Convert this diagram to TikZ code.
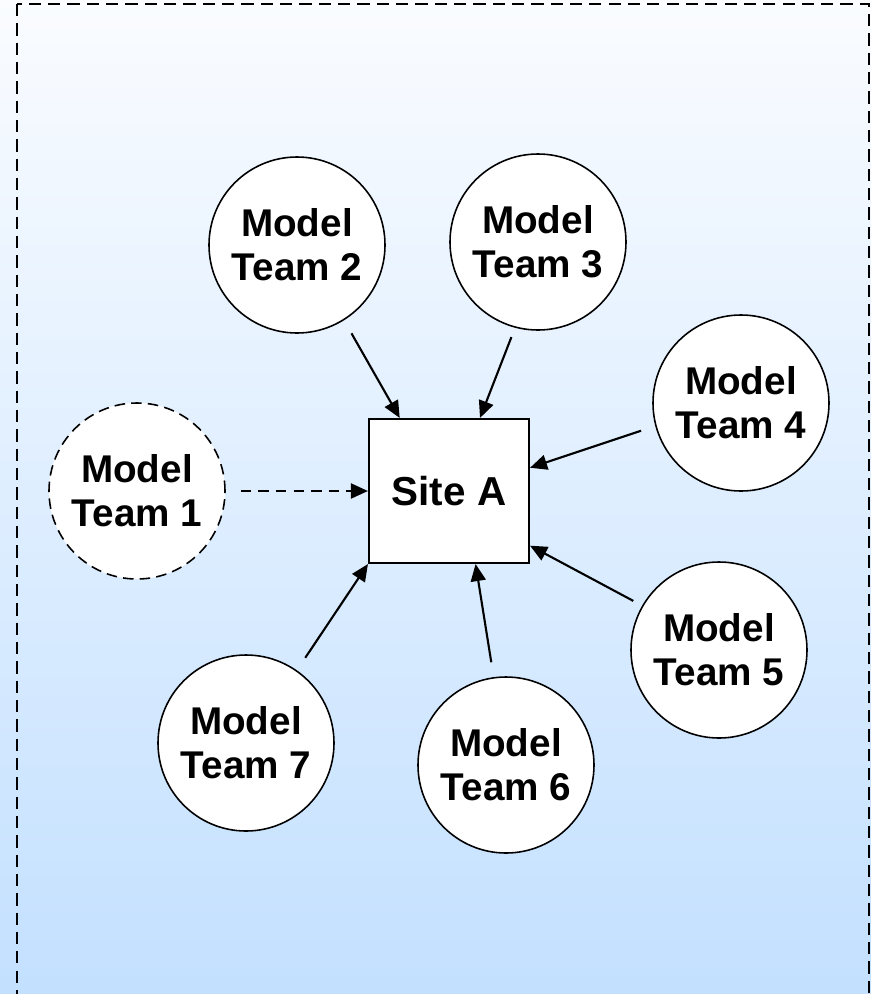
\documentclass[tikz,border=0pt]{standalone}
\usepackage{fontspec}
\setmainfont{Liberation Sans}
\usepackage{xcolor}
\usetikzlibrary{arrows.meta}

\definecolor{bgtop}{RGB}{250,252,255}
\definecolor{bgbottom}{RGB}{195,224,255}

\begin{document}
\begin{tikzpicture}[
    team/.style={draw, circle, fill=white, line width=0.9pt, minimum size=3.52cm, inner sep=0pt, align=center, font=\fontsize{22}{25}\selectfont\bfseries},
    site/.style={draw, rectangle, fill=white, line width=1.2pt, minimum width=3.2cm, minimum height=2.88cm, font=\fontsize{23}{26}\selectfont\bfseries},
    arr/.style={line width=1.2pt, -{Triangle[length=0.34cm,width=0.3cm]}, shorten <=0.3cm},
]
    \useasboundingbox (0,0) rectangle (17.42,-19.88);
    \fill[top color=bgtop, bottom color=bgbottom] (0,0) rectangle (17.42,-19.88);
    \draw[line width=1.2pt, dash pattern=on 7pt off 4pt] (0.34,-0.08) rectangle (17.38,-20.2);

    \node[site] (site) at (8.98,-9.82) {Site A};
    \node[team, dashed, dash pattern=on 6pt off 3.5pt] (t1) at (2.74,-9.82) {Model\\Team 1};
    \node[team] (t2) at (5.94,-4.90) {Model\\Team 2};
    \node[team] (t3) at (10.76,-4.84) {Model\\Team 3};
    \node[team] (t4) at (14.82,-8.06) {Model\\Team 4};
    \node[team] (t5) at (14.38,-13.00) {Model\\Team 5};
    \node[team] (t6) at (10.12,-15.30) {Model\\Team 6};
    \node[team] (t7) at (4.92,-14.86) {Model\\Team 7};

    \draw[arr, dashed, dash pattern=on 6pt off 4pt] (t1.east) -- (site.west);
    \draw[arr] (t2.-58) -- (site.124);
    \draw[arr, shorten <=0.2cm] (t3.-105) -- (site.67);
    \draw[arr] (t4.195) -- (site.16);
    \draw[arr, shorten <=0.2cm] (t5.150) -- (site.-34);
    \draw[arr] (t6.98) -- (site.-70);
    \draw[arr] (t7.55) -- (site.south west);
\end{tikzpicture}
\end{document}
